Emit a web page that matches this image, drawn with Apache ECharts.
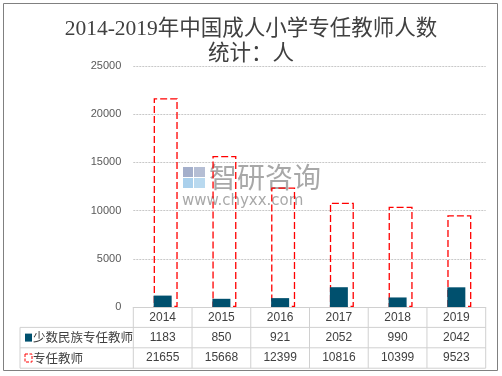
<!DOCTYPE html>
<html>
<head>
<meta charset="utf-8">
<script src="https://cdn.jsdelivr.net/npm/echarts@6/dist/echarts.min.js"></script>
<style>
  html, body { margin: 0; padding: 0; background: #fff; }
  #chart { width: 502px; height: 376px; }
</style>
</head>
<body>
<div id="chart"></div>
<script>
const years = ["2014", "2015", "2016", "2017", "2018", "2019"];
const minority = [1183, 850, 921, 2052, 990, 2042];
const teachers = [21655, 15668, 12399, 10816, 10399, 9523];
const seriesNames = ["少数民族专任教师", "专任教师"];

const chart = echarts.init(document.getElementById("chart"));

// table geometry
const plotLeft = 133.3, plotRight = 485.7, plotTop = 66, axisY = 307;
const rowH = 20.4;
const colW = (plotRight - plotLeft) / years.length;

const lineStyle = { stroke: "#d0d0d0", lineWidth: 1 };
const tableLines = [];
for (let i = 0; i <= years.length; i++) {
  const x = plotLeft + i * colW;
  tableLines.push({ type: "line", shape: { x1: x, y1: axisY, x2: x, y2: axisY + rowH * 3 }, style: lineStyle, silent: true });
}
for (let r = 1; r <= 3; r++) {
  const y = axisY + rowH * r;
  tableLines.push({ type: "line", shape: { x1: 20, y1: y, x2: plotRight, y2: y }, style: lineStyle, silent: true });
}
tableLines.push({ type: "line", shape: { x1: 20, y1: axisY + rowH, x2: 20, y2: axisY + rowH * 3 }, style: lineStyle, silent: true });

const legendCells = [
  { type: "rect", shape: { x: 25, y: axisY + rowH * 1.5 - 4, width: 7, height: 8 }, style: { fill: "#00506e" } },
  { type: "text", style: { x: 33, y: axisY + rowH * 1.5, text: seriesNames[0], font: "12.5px 'Noto Sans CJK SC'", fill: "#404040", verticalAlign: "middle" } },
  { type: "rect", shape: { x: 25, y: axisY + rowH * 2.5 - 4, width: 7, height: 8 }, style: { fill: "none", stroke: "#ff0000", lineWidth: 1, lineDash: [3, 1.5] } },
  { type: "text", style: { x: 33, y: axisY + rowH * 2.5, text: seriesNames[1], font: "12.5px 'Noto Sans CJK SC'", fill: "#404040", verticalAlign: "middle" } }
];

const watermark = [
  { type: "rect", shape: { x: 183, y: 167, width: 10, height: 10 }, style: { fill: "rgba(90,110,160,0.55)" } },
  { type: "rect", shape: { x: 194, y: 167, width: 11, height: 10 }, style: { fill: "rgba(90,110,160,0.45)" } },
  { type: "rect", shape: { x: 183, y: 178, width: 10, height: 10 }, style: { fill: "rgba(100,170,220,0.55)" } },
  { type: "rect", shape: { x: 194, y: 178, width: 11, height: 10 }, style: { fill: "rgba(100,170,220,0.45)" } },
  { type: "text", style: { x: 209, y: 177, text: "智研咨询", font: "28px 'Noto Sans CJK SC'", fill: "rgba(110,110,110,0.6)", verticalAlign: "middle" } },
  { type: "text", style: { x: 182, y: 201, text: "www.chyxx.com", font: "15px 'DejaVu Sans'", fill: "rgba(110,110,110,0.6)", verticalAlign: "middle" } }
];

chart.setOption({
  animation: false,
  backgroundColor: "#fff",
  title: {
    text: "2014-2019年中国成人小学专任教师人数\n统计：人",
    left: "center",
    top: 12,
    textStyle: {
      fontFamily: "'Liberation Serif', 'Noto Sans CJK SC'",
      fontSize: 21.5,
      fontWeight: "normal",
      color: "#404040",
      lineHeight: 25
    }
  },
  grid: { left: plotLeft, right: 502 - plotRight, top: plotTop, bottom: 376 - axisY },
  xAxis: {
    type: "category",
    data: years,
    axisLine: { lineStyle: { color: "#d0d0d0" } },
    axisTick: { show: false },
    axisLabel: {
      interval: 0,
      margin: 0,
      lineHeight: rowH,
      fontFamily: "'Liberation Sans', sans-serif",
      fontSize: 12,
      color: "#404040",
      verticalAlign: "top",
      formatter: function (v, i) {
        return [v, minority[i], teachers[i]].join("\n");
      }
    }
  },
  yAxis: {
    type: "value",
    min: 0,
    max: 25000,
    interval: 5000,
    axisLine: { show: false },
    axisTick: { show: false },
    axisLabel: {
      color: "#595959", fontSize: 11, margin: 12, fontFamily: "'Liberation Sans', sans-serif",
      formatter: function (v) { return String(v); }
    },
    splitLine: { lineStyle: { color: "#c8c8c8", type: [2, 1] } }
  },
  series: [
    {
      name: seriesNames[1],
      type: "bar",
      data: teachers,
      barWidth: 24,
      barGap: "-100%",
      itemStyle: { color: "rgba(255,255,255,0)", borderColor: "#ff0000", borderWidth: 1.3, borderType: [7, 3] },
      z: 2
    },
    {
      name: seriesNames[0],
      type: "bar",
      data: minority,
      barWidth: 18,
      barGap: "-100%",
      itemStyle: { color: "#00506e" },
      z: 3
    }
  ],
  graphic: [
    { type: "rect", shape: { x: 3.5, y: 3.5, width: 494, height: 367 }, style: { fill: "none", stroke: "#808080", lineWidth: 1 }, silent: true },
    ...tableLines,
    ...legendCells,
    ...watermark
  ]
});
</script>
</body>
</html>
